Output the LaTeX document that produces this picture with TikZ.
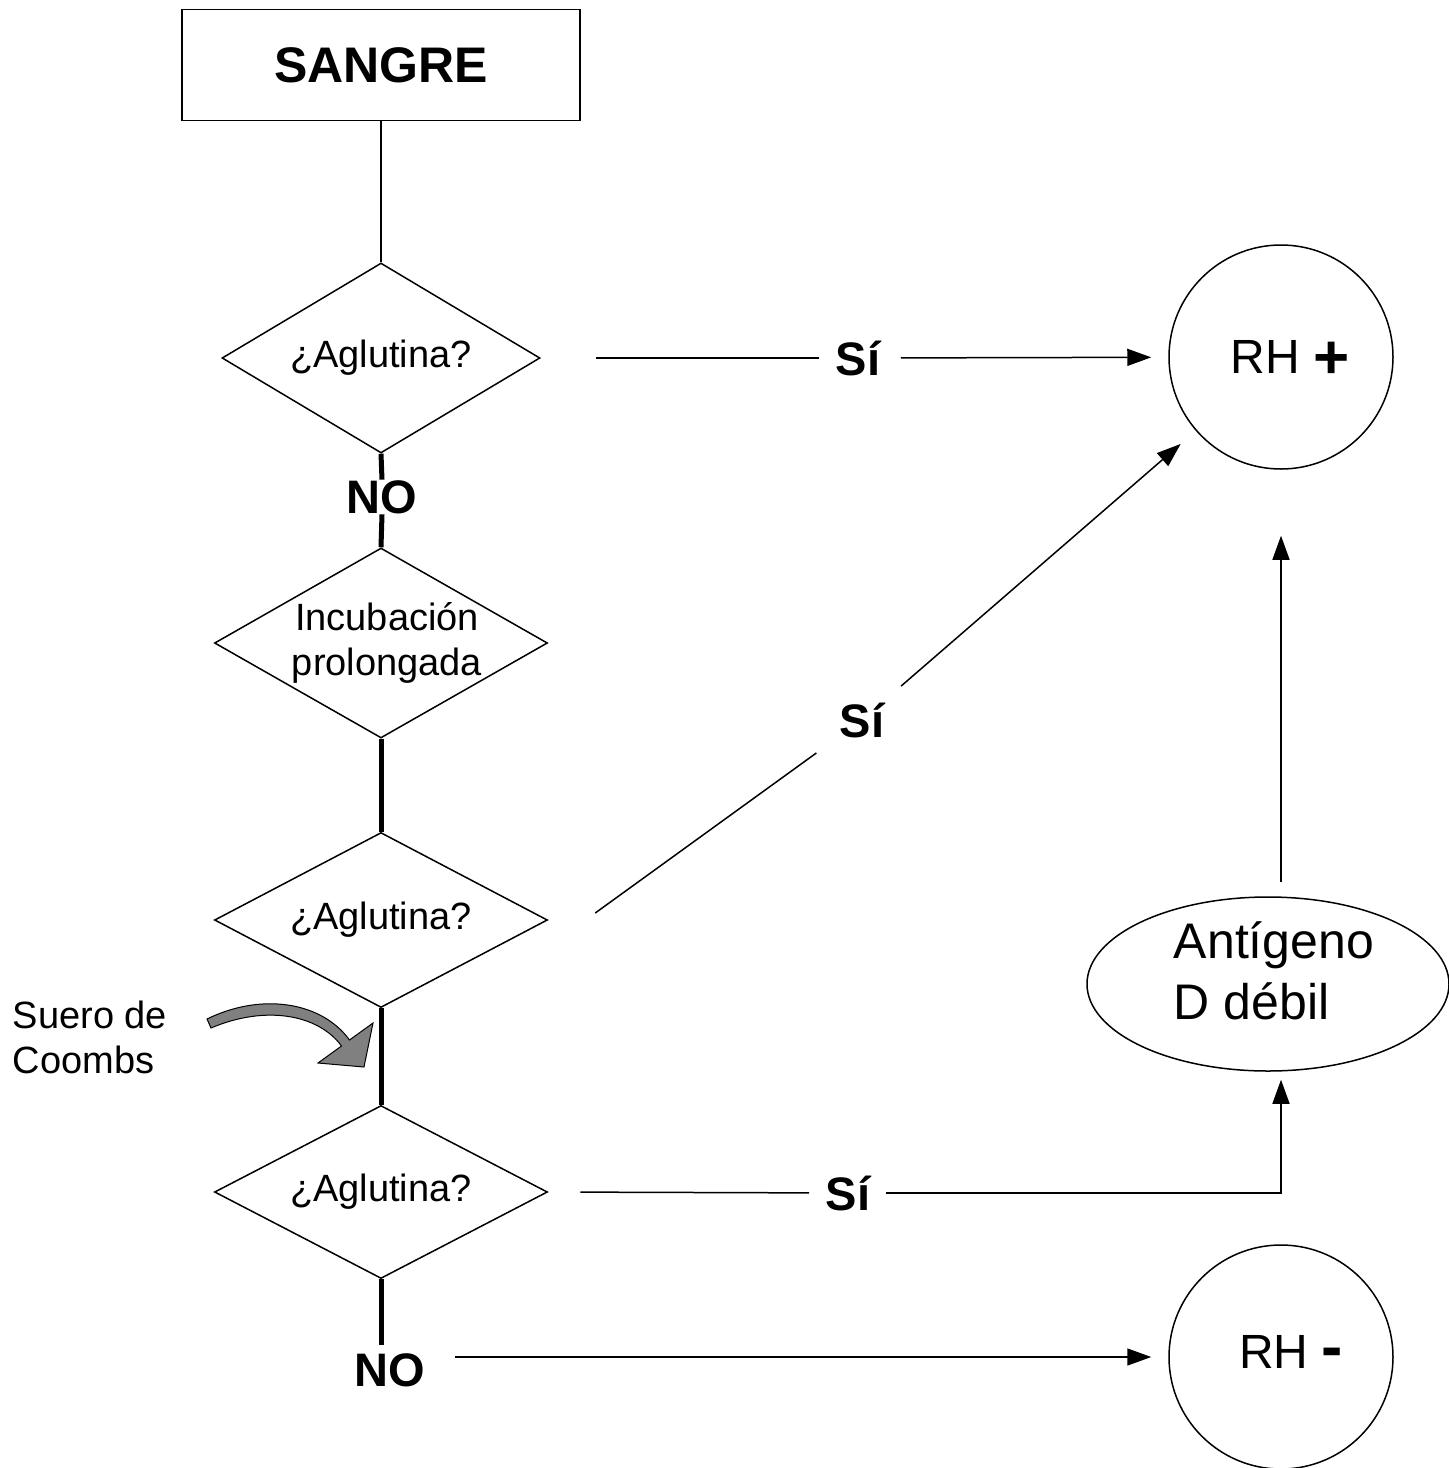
\documentclass[tikz,border=0pt]{standalone}
\usepackage{fontspec}
\setmainfont{Liberation Sans}
\usepackage{tikz}
\usetikzlibrary{shapes.geometric,arrows.meta}

\begin{document}
\begin{tikzpicture}[x=1pt,y=-1pt,line width=1.5pt]
    \tikzset{rombo/.style={draw,shape=diamond,inner sep=0pt},
        txt/.style={font=\fontsize{38}{45}\selectfont},
        negrita/.style={font=\fontsize{47}{56}\selectfont\bfseries,inner sep=0pt},
        flecha/.style={-{Triangle[length=24pt,width=17pt]}}}
    \useasboundingbox (0,0) rectangle (1449,1468);
    \node[draw,minimum width=398pt,minimum height=111pt,font=\fontsize{50}{60}\selectfont\bfseries] (sangre) at (381,65) {SANGRE};
    \node[rombo,minimum width=318pt,minimum height=190pt,label={[txt]center:¿Aglutina?}] (d1) at (381,358) {};
    \node[rombo,minimum width=333pt,minimum height=190pt,label={[txt,align=center,xshift=6pt]center:Incubación\\prolongada}] (d2) at (381,643) {};
    \node[rombo,minimum width=333pt,minimum height=175pt,label={[txt]center:¿Aglutina?}] (d3) at (381,920) {};
    \node[rombo,minimum width=333pt,minimum height=173pt,label={[txt]center:¿Aglutina?}] (d4) at (381,1192) {};
    \node[negrita] (no1) at (382,497) {NO};
    \node[negrita] (no2) at (390,1370) {NO};
    \node[negrita] (si1) at (858,358) {Sí};
    \node[negrita] (si2) at (862,720) {Sí};
    \node[negrita] (si3) at (848,1193) {Sí};
    \node[draw,circle,minimum size=224pt,inner sep=0pt,label={[xshift=9pt,yshift=-2pt]center:\fontsize{48}{56}\selectfont RH \raisebox{-5pt}{\textbf{\fontsize{62}{70}\selectfont +}}}] (rhp) at (1281,357) {};
    \node[draw,circle,minimum size=224pt,inner sep=0pt,label={[xshift=10pt,yshift=5pt]center:\fontsize{48}{56}\selectfont RH \textbf{\fontsize{64}{70}\selectfont -}}] (rhm) at (1281,1357) {};
    \node[draw,ellipse,minimum width=362pt,minimum height=174pt,inner sep=0pt,label={[align=left,font=\fontsize{50}{61}\selectfont,xshift=6pt,yshift=13pt]center:Antígeno\\D débil}] (ant) at (1268,984) {};
    \node[txt,align=left,anchor=west,inner sep=0pt] (suero) at (12,1037) {Suero de\\Coombs};
    \draw (sangre) -- (d1);
    \draw[line width=5pt] (d1.south) -- (no1.north);
    \draw[line width=5pt] (no1.south) -- (d2.north);
    \draw[line width=5pt] (d2.south) -- (d3.north);
    \draw[line width=5pt] (d3.south) -- (d4.north);
    \draw[line width=5pt,shorten >=8pt] (d4.south) -- (d4.south |- no2.north);
    \draw[shorten <=55pt,shorten >=16pt] (d1.east) -- (si1);
    \draw[flecha,shorten <=20pt,shorten >=17pt] (si1) -- (rhp);
    \draw[shorten >=28pt] ([shift={(47,-7)}]d3.east) -- (si2);
    \draw[flecha,shorten <=24pt,shorten >=20pt] (si2) -- (rhp);
    \draw[shorten <=32pt,shorten >=16pt] (d4.east) -- (si3);
    \draw[flecha,shorten <=15pt,shorten >=8pt] (si3) -| (ant.south -| rhp);
    \draw[flecha,shorten <=14pt,shorten >=66pt] (ant.north -| rhp) -- (rhp.south);
    \draw[flecha,shorten <=29pt,shorten >=17pt] (no2.east |- rhm) -- (rhm);
    \draw[fill=gray,line width=1pt] (207,1019) .. controls (262,992) and (322,1002) .. (349.5,1040) -- (373,1023) -- (364,1067) -- (318,1063) -- (341.5,1046) .. controls (318,1014) and (265,1005) .. (211,1028) -- cycle;
\end{tikzpicture}
\end{document}
